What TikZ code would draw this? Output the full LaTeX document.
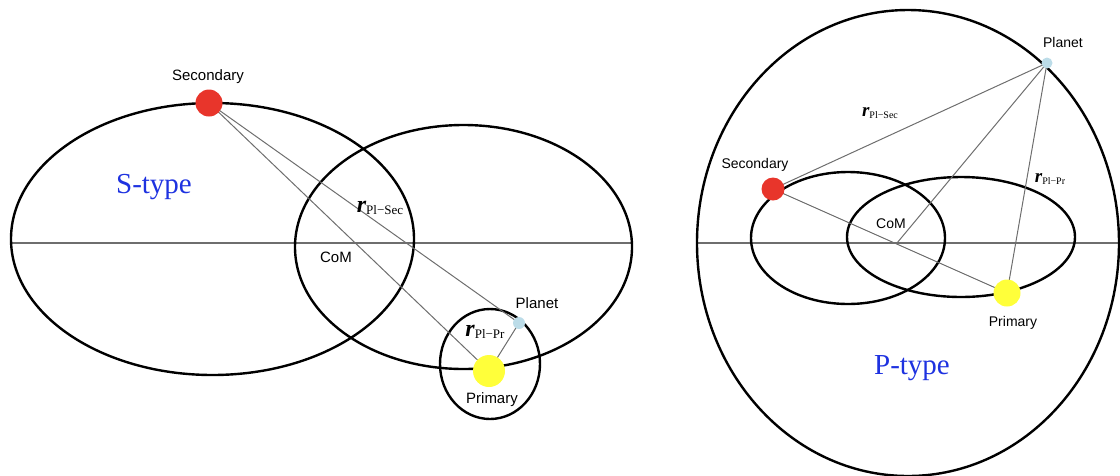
\documentclass[tikz,border=0pt]{standalone}
\usepackage{fontspec}
\setmainfont{Liberation Serif}
\setsansfont{Liberation Sans}
\usetikzlibrary{backgrounds}
\definecolor{secred}{HTML}{E8352B}
\definecolor{pryellow}{HTML}{FFFF3A}
\definecolor{plblue}{HTML}{BCDCE8}
\definecolor{linegray}{HTML}{6E6E6E}
\definecolor{typeblue}{HTML}{1E32E0}
\newcommand{\rlab}[3]{{\fontsize{#1}{#1}\selectfont\bfseries\itshape r}\raisebox{-0.3ex}{\fontsize{#2}{#2}\selectfont #3}}
\begin{document}
\begin{tikzpicture}[x=1pt,y=-1pt,
  orbit/.style={draw=black,line width=2.4pt},
  axisline/.style={draw=linegray,line width=1.5pt},
  sepline/.style={draw=linegray,line width=1pt},
  ball/.style={circle,inner sep=0pt,draw=none},
  lblA/.style={font=\sffamily\fontsize{15}{15}\selectfont,inner sep=0pt},
  lblB/.style={font=\sffamily\fontsize{14}{14}\selectfont,inner sep=0pt},
  rnode/.style={inner sep=0pt},
  typelbl/.style={font=\fontsize{29}{29}\selectfont,text=typeblue,inner sep=0pt}]
\useasboundingbox (0,0) rectangle (1120,475);

% ---------------- S-type (left) ----------------
\node[ball,fill=secred,minimum size=27pt] (sec1) at (209,103) {};
\node[ball,fill=pryellow,minimum size=32pt] (pr1) at (489,371) {};
\node[ball,fill=plblue,minimum size=12pt] (pl1) at (519,323) {};

\begin{pgfonlayer}{background}
\draw[axisline] (11,243) -- (632,243);
\draw[orbit] (212.5,239) ellipse [x radius=201.5pt, y radius=136pt];
\draw[orbit] (463.5,247) ellipse [x radius=168.5pt, y radius=122pt];
\draw[orbit] (490,364) ellipse [x radius=50pt, y radius=55pt];
\draw[sepline] (sec1.center) -- (pl1.center);
\draw[sepline] (sec1.center) -- (pr1.center);
\draw[sepline] (pr1.center) -- (pl1.center);
\end{pgfonlayer}

\node[lblA] (seclbl1) at (208,77) {Secondary};
\node[lblA] (pllbl1) at (537,303) {Planet};
\node[lblA] (prlbl1) at (492,400) {Primary};
\node[lblA] (comlbl1) at (336,257) {CoM};
\node[rnode] (rsec1) at (380,208) {\rlab{24}{13}{Pl−Sec}};
\node[rnode] (rpr1) at (485,332) {\rlab{24}{13}{Pl−Pr}};
\node[typelbl] (stype) at (154,187) {S-type};

% ---------------- P-type (right) ----------------
\node[ball,fill=secred,minimum size=23pt] (sec2) at (773,189) {};
\node[ball,fill=pryellow,minimum size=27pt] (pr2) at (1007,293) {};
\node[ball,fill=plblue,minimum size=11pt] (pl2) at (1047,63) {};
\coordinate (com2) at (897,243);

\begin{pgfonlayer}{background}
\draw[axisline] (697,243) -- (1120,243);
\draw[orbit] (908,243) ellipse [x radius=211pt, y radius=233pt];
\draw[orbit] (848,238) ellipse [x radius=97pt, y radius=66pt];
\draw[orbit] (961,237) ellipse [x radius=114pt, y radius=60pt];
\draw[sepline] (sec2.center) -- (pl2.center);
\draw[sepline] (sec2.center) -- (pr2.center);
\draw[sepline] (pr2.center) -- (pl2.center);
\draw[sepline] (com2) -- (pl2.center);
\end{pgfonlayer}

\node[lblB] (seclbl2) at (755,165) {Secondary};
\node[lblB] (pllbl2) at (1063,42) {Planet};
\node[lblB] (prlbl2) at (1013,323) {Primary};
\node[lblB] (comlbl2) at (891,224) {CoM};
\node[rnode] (rsec2) at (880,113) {\rlab{19}{10}{Pl−Sec}};
\node[rnode] (rpr2) at (1050,179) {\rlab{19}{10}{Pl−Pr}};
\node[typelbl] (ptype) at (912,368) {P-type};
\end{tikzpicture}
\end{document}
